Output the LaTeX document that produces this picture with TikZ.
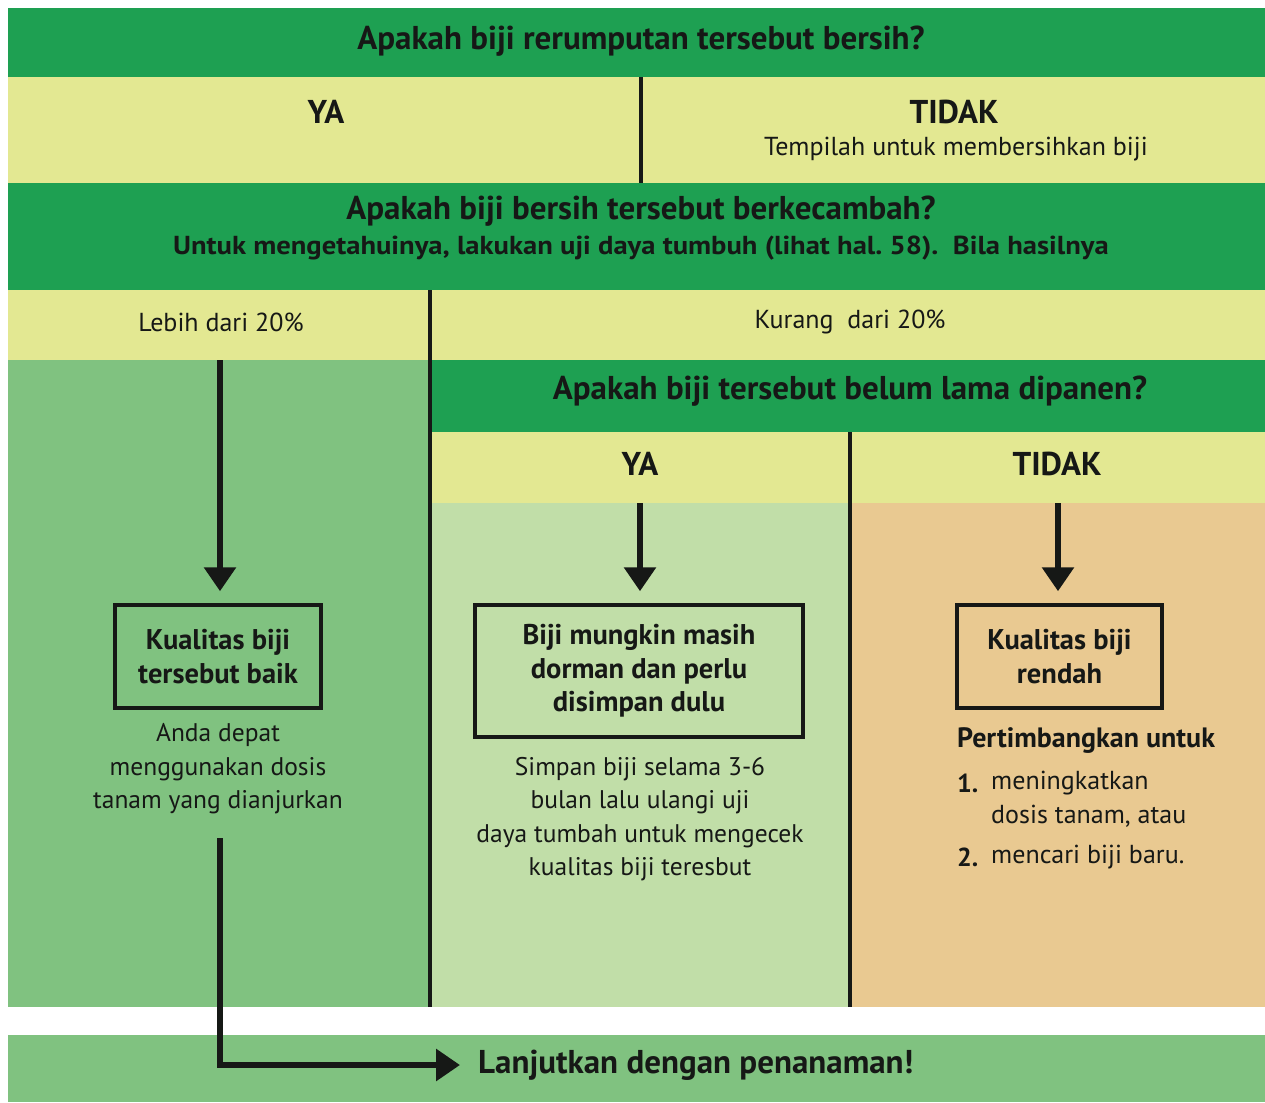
\documentclass[tikz,border=0pt]{standalone}
\usepackage{fontspec}
\setmainfont{PT Sans}
\newfontfamily\condb{PT Sans Bold}
\newfontfamily\wideb[FakeStretch=1.1]{PT Sans Bold}
\usetikzlibrary{arrows.meta}
\definecolor{dkgreen}{RGB}{30,160,82}
\definecolor{yel}{RGB}{227,232,146}
\definecolor{midgreen}{RGB}{128,194,128}
\definecolor{ltgreen}{RGB}{193,222,168}
\definecolor{tanc}{RGB}{233,201,145}
\definecolor{ink}{RGB}{22,24,22}
\tikzset{
  title/.style={font=\condb\fontsize{33}{38}\selectfont, text=ink, inner sep=0pt},
  subt/.style={font=\wideb\fontsize{26}{30}\selectfont, text=ink, inner sep=0pt},
  lab/.style={font=\condb\fontsize{33}{36}\selectfont, text=ink, inner sep=0pt},
  body/.style={font=\fontsize{26}{33}\selectfont, text=ink, inner sep=0pt},
  desc/.style={font=\fontsize{25.5}{33.5}\selectfont, text=ink, inner sep=0pt, align=center},
  item/.style={font=\fontsize{26}{33}\selectfont, text=ink, inner sep=0pt, anchor=west},
  boxn/.style={draw=ink, line width=3.5pt, font=\condb\fontsize{28.5}{33.5}\selectfont, text=ink, align=center, inner sep=0pt},
  divider/.style={draw=ink, line width=4pt},
  arr/.style={draw=ink, line width=6pt, -{Triangle[width=31pt,length=24pt]}},
}
\begin{document}
\begin{tikzpicture}[x=1pt,y=-1pt]
\useasboundingbox (0,0) rectangle (1265,1102);
\fill[white] (0,0) rectangle (1265,1102);
% bands
\fill[dkgreen] (8,8) rectangle (1265,77);
\fill[yel] (8,77) rectangle (1265,183);
\fill[dkgreen] (8,183) rectangle (1265,290);
\fill[yel] (8,290) rectangle (1265,360);
\fill[midgreen] (8,360) rectangle (430,1007);
\fill[dkgreen] (430,360) rectangle (1265,432);
\fill[yel] (430,432) rectangle (1265,503);
\fill[ltgreen] (430,503) rectangle (850,1007);
\fill[tanc] (850,503) rectangle (1265,1007);
\fill[midgreen] (8,1035) rectangle (1265,1102);
% dividers
\draw[divider] (641,77) -- (641,183);
\draw[divider] (430,290) -- (430,1007);
\draw[divider] (850,432) -- (850,1007);
% texts
\node[title] (q1) at (641,41) {Apakah biji rerumputan tersebut bersih?};
\node[lab] (ya1) at (326,112) {YA};
\node[lab] (tidak1) at (954,112) {TIDAK};
\node[body] (temp) at (956,149) {Tempilah untuk membersihkan biji};
\node[title] (q2) at (641,211) {Apakah biji bersih tersebut berkecambah?};
\node[subt] (q2s) at (641,248) {Untuk mengetahuinya, lakukan uji daya tumbuh (lihat hal.~58).\ \ Bila hasilnya};
\node[body] (lebih) at (221,322) {Lebih dari 20\%};
\node[body] (kurang) at (850,322) {Kurang\ \ dari 20\%};
\node[title] (q3) at (850,391) {Apakah biji tersebut belum lama dipanen?};
\node[lab] (ya2) at (640,464) {YA};
\node[lab] (tidak2) at (1057,464) {TIDAK};
% boxes
\node[boxn, minimum width=206, minimum height=103] (b1) at (218,656.5) {Kualitas biji\\tersebut baik};
\node[boxn, minimum width=328, minimum height=132] (b2) at (639,671) {Biji mungkin masih\\dorman dan perlu\\disimpan dulu};
\node[boxn, minimum width=205, minimum height=103] (b3) at (1059.5,656.5) {Kualitas biji\\rendah};
% descriptions
\node[desc] (d1) at (218,769) {Anda depat\\menggunakan dosis\\tanam yang dianjurkan};
\node[desc] (d2) at (640,819) {Simpan biji selama 3-6\\bulan lalu ulangi uji\\daya tumbah untuk mengecek\\kualitas biji teresbut};
\node[anchor=west, font=\condb\fontsize{28}{32}\selectfont, text=ink, inner sep=0pt] (pert) at (957,741) {Pertimbangkan untuk};
\node[anchor=west, font=\condb\fontsize{26}{30}\selectfont, text=ink, inner sep=0pt] (n1) at (957,783) {1.};
\node[item] (i1) at (991,783) {meningkatkan};
\node[item] (i1b) at (991,816) {dosis tanam, atau};
\node[anchor=west, font=\condb\fontsize{26}{30}\selectfont, text=ink, inner sep=0pt] (n2) at (957,857) {2.};
\node[item] (i2) at (991,857) {mencari biji baru.};
\node[anchor=west, title] (lanj) at (478,1065) {Lanjutkan dengan penanaman!};
% arrows
\coordinate (a1) at (220,360);
\coordinate (a2) at (640,503);
\coordinate (a3) at (1058,503);
\coordinate (a4) at (220,838);
\draw[arr, shorten >=12pt] (a1) -- (a1 |- b1.north);
\draw[arr, shorten >=12pt] (a2) -- (a2 |- b2.north);
\draw[arr, shorten >=12pt] (a3) -- (a3 |- b3.north);
\draw[arr, shorten >=18pt] (a4) |- (lanj.west);
\end{tikzpicture}
\end{document}
